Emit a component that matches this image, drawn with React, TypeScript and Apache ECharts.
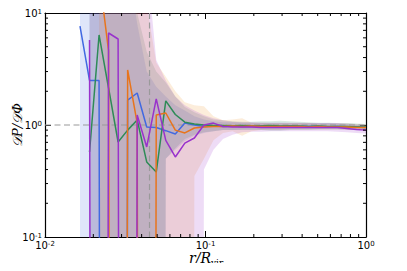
import React, { useEffect, useRef } from 'react';
import * as echarts from 'echarts';

// bin centres r / R_vir
const binR = [0.01652, 0.01894, 0.02172, 0.02489, 0.02854, 0.03273, 0.03753, 0.04302, 0.04933, 0.05656, 0.06486, 0.07436, 0.08526, 0.09777, 0.1121, 0.1285, 0.1474, 0.169, 0.1937, 0.2221, 0.2547, 0.292, 0.3348, 0.3839, 0.4401, 0.5047, 0.5786, 0.6634, 0.7606, 0.8721, 1.0];

// lines (0 = empty bin, null = no data)
const blueLine = [7.65, 2.5, 2.5, 0, 0, 1.67, 1.93, 0.96, 0.95, 0.89, 0.83, 1.04, 1.0, 0.97, 0.98, 0.97, 0.98, 0.97, 0.97, 0.98, 0.97, 0.97, 0.98, 0.97, 0.97, 0.97, 0.96, 0.97, 0.96, 0.96, 0.95];
const greenLine = [null, 0.574, 6.37, 2.14, 0.705, 0.9, 1.11, 0.468, 0.38, 1.64, 1.24, 1.06, 1.02, 1.0, 0.99, 0.99, 0.98, 0.99, 0.98, 0.98, 0.99, 0.98, 0.98, 0.98, 0.97, 0.98, 0.97, 0.97, 0.97, 0.96, 0.96];
const orangeLine = [null, null, 22, 4.6, 0, 3.1, 1.04, 0, 1.23, 1.28, 0.9, 0.85, 0.94, 0.96, 0.97, 0.97, 0.98, 0.97, 0.98, 0.97, 0.97, 0.97, 0.97, 0.97, 0.96, 0.97, 0.96, 0.96, 0.96, 0.95, 0.95];
const purpleLine = [null, 5.74, 0, 6.63, 5.86, 0, 1.23, 0.637, 1.71, 0.73, 0.518, 0.69, 0.766, 1.0, 1.04, 0.97, 0.96, 0.96, 0.96, 0.95, 0.95, 0.95, 0.95, 0.95, 0.95, 0.95, 0.95, 0.95, 0.93, 0.91, 0.9];

// bands
const blueLo = [0, 0, 0, 0, 0, 0, 0, 0, 0, 0.5, 0.6, 0.72, 0.8, 0.85, 0.88, 0.9, 0.9, 0.91, 0.91, 0.91, 0.91, 0.91, 0.92, 0.92, 0.92, 0.92, 0.92, 0.92, 0.91, 0.91, 0.9];
const blueHi = [30, 30, 30, 30, 30, 30, 8, 3.0, 2.2, 1.8, 1.5, 1.35, 1.2, 1.12, 1.08, 1.06, 1.06, 1.05, 1.05, 1.05, 1.05, 1.05, 1.04, 1.04, 1.04, 1.04, 1.04, 1.03, 1.03, 1.02, 1.01];
const greenLo = [null, 0, 0, 0, 0, 0, 0, 0, 0, 0.5, 0.62, 0.75, 0.82, 0.86, 0.88, 0.9, 0.9, 0.9, 0.9, 0.9, 0.89, 0.89, 0.9, 0.9, 0.9, 0.91, 0.91, 0.91, 0.91, 0.9, 0.9];
const greenHi = [null, 30, 30, 30, 30, 30, 10, 4.5, 3.0, 2.4, 1.8, 1.45, 1.3, 1.2, 1.12, 1.1, 1.08, 1.07, 1.07, 1.08, 1.08, 1.09, 1.08, 1.07, 1.06, 1.05, 1.05, 1.04, 1.04, 1.03, 1.02];
const orangeLo = [null, null, 0, 0, 0, 0, 0, 0, 0, 0, 0, 0, 0.35, 0.5, 0.73, 0.85, 0.88, 0.8, 0.88, 0.9, 0.9, 0.9, 0.91, 0.91, 0.91, 0.91, 0.91, 0.91, 0.9, 0.9, 0.9];
const orangeHi = [null, null, 30, 30, 30, 30, 30, 12, 3.6, 2.7, 2.0, 1.6, 1.5, 1.47, 1.2, 1.1, 1.12, 1.15, 1.05, 1.05, 1.04, 1.04, 1.04, 1.04, 1.04, 1.03, 1.03, 1.03, 1.03, 1.02, 1.01];
const purpleLo = [null, 0, 0, 0, 0, 0, 0, 0, 0, 0, 0, 0, 0, 0.4, 0.6, 0.75, 0.82, 0.86, 0.87, 0.87, 0.88, 0.88, 0.88, 0.88, 0.88, 0.88, 0.88, 0.87, 0.86, 0.85, 0.84];
const purpleHi = [null, 30, 30, 30, 30, 30, 30, 30, 3.8, 2.5, 1.8, 1.5, 1.35, 1.23, 1.15, 1.1, 1.07, 1.06, 1.06, 1.05, 1.05, 1.05, 1.05, 1.05, 1.04, 1.04, 1.04, 1.04, 1.02, 1.0, 0.98];

// reference lines
const unityLevel = 1;
const markerR = 0.0448;

// axis ranges and minor ticks
const xRange = [0.01, 1];
const yRange = [0.1, 10];
const xMinorTicks = [0.02, 0.03, 0.04, 0.05, 0.06, 0.07, 0.08, 0.09, 0.2, 0.3, 0.4, 0.5, 0.6, 0.7, 0.8, 0.9];
const yMinorTicks = [0.2, 0.3, 0.4, 0.5, 0.6, 0.7, 0.8, 0.9, 2, 3, 4, 5, 6, 7, 8, 9];

const C = {
  blue: '#4169e1',
  green: '#2e8b57',
  orange: '#e8741c',
  purple: '#9932cc',
};
const BAND = {
  blue: 'rgba(65,105,225,0.17)',
  green: 'rgba(46,139,87,0.17)',
  orange: 'rgba(240,150,40,0.17)',
  purple: 'rgba(153,50,204,0.17)',
};

const TINY = 1e-40;
const floorV = (v: number) => (v <= 0 ? TINY : v);

function lineSeries(vals: (number | null)[], color: string) {
  const data: any[] = [];
  vals.forEach((v, i) => {
    if (v == null) return;
    data.push([binR[i], floorV(v)]);
  });
  return {
    type: 'line',
    data,
    symbol: 'none',
    clip: true,
    lineStyle: { color, width: 1.5 },
    itemStyle: { color },
    z: 3,
  };
}

function bandSeries(lo: (number | null)[], hi: (number | null)[], color: string) {
  return {
    type: 'custom',
    coordinateSystem: 'cartesian2d',
    silent: true,
    clip: true,
    z: 1,
    data: [[binR[0], 1]],
    renderItem: (params: any, api: any) => {
      const up: number[][] = [];
      const down: number[][] = [];
      for (let i = 0; i < binR.length; i++) {
        const l = lo[i];
        const h = hi[i];
        if (l == null || h == null) continue;
        up.push(api.coord([binR[i], floorV(h)]));
        down.push(api.coord([binR[i], floorV(l)]));
      }
      const pts = up.concat(down.reverse());
      const cs = params.coordSys;
      return {
        type: 'polygon',
        shape: { points: pts },
        style: { fill: color, stroke: null },
        clipPath: { type: 'rect', shape: { x: cs.x, y: cs.y, width: cs.width, height: cs.height } },
      };
    },
  };
}

function refLineSeries() {
  return {
    type: 'custom',
    coordinateSystem: 'cartesian2d',
    silent: true,
    z: 2,
    data: [[markerR, unityLevel]],
    renderItem: (params: any, api: any) => {
      const xv = api.value(0);
      const yv = api.value(1);
      const h0 = api.coord([xRange[0], yv]);
      const h1 = api.coord([xRange[1], yv]);
      const v0 = api.coord([xv, yRange[0]]);
      const v1 = api.coord([xv, yRange[1]]);
      const st = { stroke: '#9a9a9a', lineWidth: 1.2, lineDash: [6, 3.5] };
      return {
        type: 'group',
        children: [
          { type: 'line', shape: { x1: h0[0], y1: h0[1], x2: h1[0], y2: h1[1] }, style: st },
          { type: 'line', shape: { x1: v1[0], y1: v1[1], x2: v0[0], y2: v0[1] }, style: st },
        ],
      };
    },
  };
}

function minorTickSeries(ticks: number[], isX: boolean) {
  return {
    type: 'custom',
    coordinateSystem: 'cartesian2d',
    silent: true,
    z: 5,
    data: ticks.map((t) => (isX ? [t, 1] : [0.1, t])),
    renderItem: (params: any, api: any) => {
      const v = api.value(isX ? 0 : 1);
      const st = { stroke: '#000', lineWidth: 1 };
      const L = 3;
      if (isX) {
        const b = api.coord([v, yRange[0]]);
        const t = api.coord([v, yRange[1]]);
        return {
          type: 'group',
          children: [
            { type: 'line', shape: { x1: b[0], y1: b[1], x2: b[0], y2: b[1] - L }, style: st },
            { type: 'line', shape: { x1: t[0], y1: t[1], x2: t[0], y2: t[1] + L }, style: st },
          ],
        };
      }
      const l = api.coord([xRange[0], v]);
      const r = api.coord([xRange[1], v]);
      return {
        type: 'group',
        children: [
          { type: 'line', shape: { x1: l[0], y1: l[1], x2: l[0] + L, y2: l[1] }, style: st },
          { type: 'line', shape: { x1: r[0], y1: r[1], x2: r[0] - L, y2: r[1] }, style: st },
        ],
      };
    },
  };
}

const supFormatter = (value: number) => {
  const e = Math.round(Math.log10(value));
  return '{b|10}{s|' + e + '}';
};
const supRich = {
  b: { fontSize: 10, lineHeight: 10, verticalAlign: 'bottom', fontFamily: 'DejaVu Sans', color: '#000' },
  s: { fontSize: 7, lineHeight: 6, verticalAlign: 'top', padding: [0, 0, 6, 0], fontFamily: 'DejaVu Sans', color: '#000' },
};

function axisCommon(isMain: boolean) {
  return {
    type: 'log',
    logBase: 10,
    axisLine: { show: true, lineStyle: { color: '#000', width: 1.2 } },
    axisTick: { show: true, inside: true, length: 6, lineStyle: { color: '#000', width: 1 } },
    splitLine: { show: false },
    minorTick: { show: false },
    axisLabel: isMain
      ? { show: true, margin: 3, formatter: supFormatter, rich: supRich, showMinLabel: true, showMaxLabel: true, hideOverlap: false }
      : { show: false },
  };
}

export default function App() {
  const ref = useRef<HTMLDivElement>(null);
  useEffect(() => {
    if (!ref.current) return;
    const chart = echarts.init(ref.current, null, { renderer: 'svg' });
    const option: any = {
      animation: false,
      backgroundColor: '#fff',
      grid: { left: 45, top: 13, width: 321, height: 224, containLabel: false },
      xAxis: [
        { ...axisCommon(true), min: xRange[0], max: xRange[1], position: 'bottom' },
        { ...axisCommon(false), min: xRange[0], max: xRange[1], position: 'top' },
      ],
      yAxis: [
        { ...axisCommon(true), min: yRange[0], max: yRange[1], position: 'left' },
        { ...axisCommon(false), min: yRange[0], max: yRange[1], position: 'right' },
      ],
      graphic: [
        {
          type: 'text',
          x: 17,
          y: 125,
          rotation: Math.PI / 2,
          style: {
            text: '𝒟P/𝒟Φ',
            fontSize: 13,
            fontStyle: 'italic',
            fontFamily: 'DejaVu Serif',
            fill: '#000',
            align: 'center',
            verticalAlign: 'middle',
          },
        },
        {
          type: 'text',
          x: 211,
          y: 251,
          style: {
            text: 'r/R',
            fontSize: 14,
            fontStyle: 'italic',
            fontFamily: 'DejaVu Serif',
            fill: '#000',
            align: 'right',
            verticalAlign: 'top',
          },
        },
        {
          type: 'text',
          x: 211,
          y: 258,
          style: {
            text: 'vir',
            fontSize: 9,
            fontFamily: 'DejaVu Serif',
            fill: '#000',
            align: 'left',
            verticalAlign: 'top',
          },
        },
      ],
      series: [
        bandSeries(blueLo, blueHi, BAND.blue),
        bandSeries(greenLo, greenHi, BAND.green),
        bandSeries(orangeLo, orangeHi, BAND.orange),
        bandSeries(purpleLo, purpleHi, BAND.purple),
        refLineSeries(),
        lineSeries(blueLine, C.blue),
        lineSeries(greenLine, C.green),
        lineSeries(orangeLine, C.orange),
        lineSeries(purpleLine, C.purple),
        minorTickSeries(xMinorTicks, true),
        minorTickSeries(yMinorTicks, false),
      ],
    };
    chart.setOption(option);
    return () => chart.dispose();
  }, []);
  return <div ref={ref} style={{ width: 407, height: 271, margin: -8 }} />;
}
